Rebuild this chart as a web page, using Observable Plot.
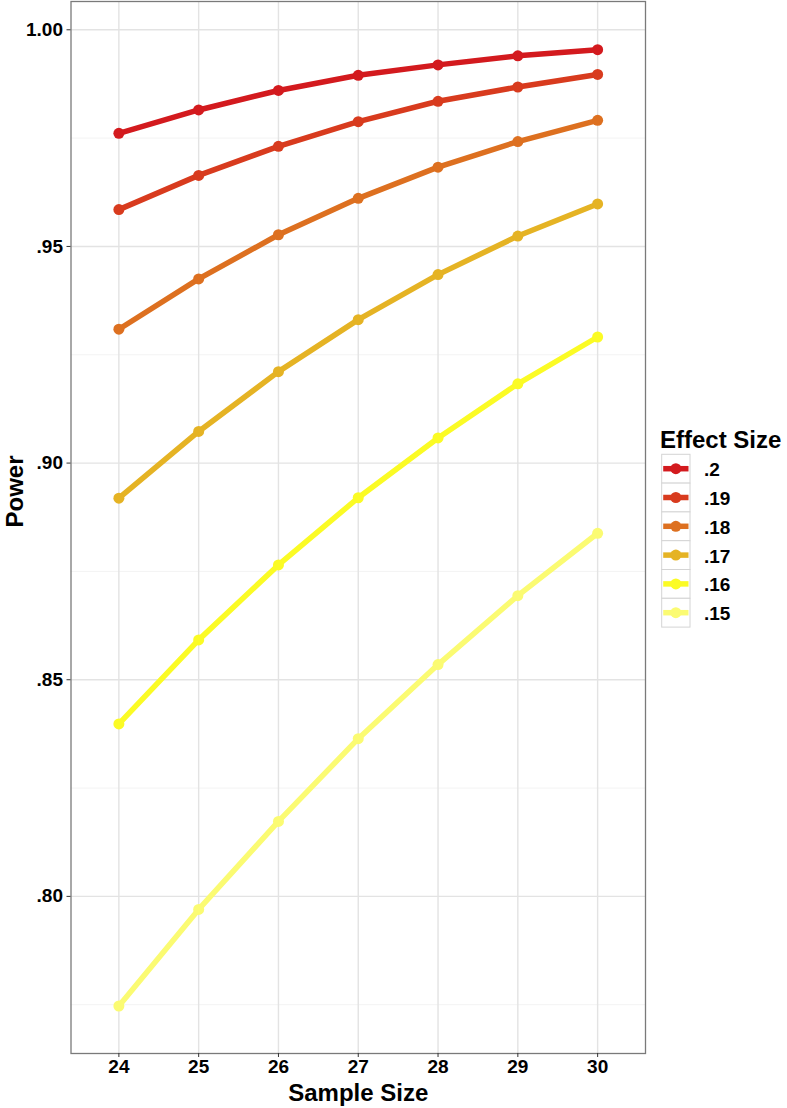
<!DOCTYPE html>
<html>
<head>
<meta charset="utf-8">
<script src="https://cdn.jsdelivr.net/npm/d3@7"></script>
<script src="https://cdn.jsdelivr.net/npm/@observablehq/plot@0.6"></script>
<style>
  html, body { margin: 0; padding: 0; background: #fff; }
  #wrap { position: relative; width: 787px; height: 1108px; }
</style>
</head>
<body>
<div id="wrap"></div>
<script>
// ---- data ----
const sampleSize = [24, 25, 26, 27, 28, 29, 30];
const effectSizes = [".2", ".19", ".18", ".17", ".16", ".15"];
const seriesColors = ["#d31a1e", "#d83b1e", "#dd7020", "#e5b324", "#fbfb25", "#fbfb72"];
const power_20 = [0.9761, 0.9815, 0.9860, 0.9895, 0.9919, 0.9940, 0.9954];
const power_19 = [0.9585, 0.9664, 0.9731, 0.9788, 0.9835, 0.9868, 0.9897];
const power_18 = [0.9309, 0.9425, 0.9527, 0.9611, 0.9683, 0.9742, 0.9791];
const power_17 = [0.8919, 0.9073, 0.9211, 0.9331, 0.9435, 0.9524, 0.9598];
const power_16 = [0.8398, 0.8592, 0.8765, 0.8920, 0.9058, 0.9183, 0.9291];
const power_15 = [0.7747, 0.7970, 0.8173, 0.8364, 0.8535, 0.8694, 0.8838];
const yTicks = [0.80, 0.85, 0.90, 0.95, 1.00];
const yTickLabels = [".80", ".85", ".90", ".95", "1.00"];
const yMinor = [0.775, 0.825, 0.875, 0.925, 0.975];
const xTitle = "Sample Size";
const yTitle = "Power";
const legendTitle = "Effect Size";

const allSeries = [power_20, power_19, power_18, power_17, power_16, power_15];
const data = [];
allSeries.forEach((vals, i) => {
  vals.forEach((v, j) => data.push({es: effectSizes[i], n: sampleSize[j], power: v}));
});

const font = "'Liberation Sans', Arial, sans-serif";

const plot = Plot.plot({
  width: 787,
  height: 1108,
  marginLeft: 70.5,
  marginRight: 142,
  marginTop: 1,
  marginBottom: 55,
  style: {fontFamily: font, fontSize: "19px", fontWeight: "bold", color: "#000", background: "#fff"},
  x: {domain: [23.4, 30.6], label: null},
  y: {domain: [0.76374, 1.00653], label: null},
  color: {domain: effectSizes, range: seriesColors},
  marks: [
    Plot.ruleY(yMinor, {stroke: "#f3f3f3", strokeWidth: 1}),
    Plot.ruleY(yTicks, {stroke: "#e3e3e3", strokeWidth: 1.4}),
    Plot.ruleX(sampleSize, {stroke: "#e3e3e3", strokeWidth: 1.4}),
    Plot.line(data, {x: "n", y: "power", z: "es", stroke: "es", strokeWidth: 5.5, strokeLinejoin: "round"}),
    Plot.dot(data, {x: "n", y: "power", fill: "es", r: 5.5, stroke: "none"}),
    Plot.frame({stroke: "#7a7a7a", strokeWidth: 1.3}),
    Plot.axisX(sampleSize, {tickSize: 4, tickPadding: 2, tickFormat: d => String(d), stroke: "#333", fontSize: 19, fontWeight: "bold", fill: "#000"}),
    Plot.axisY(yTicks, {tickSize: 4, tickPadding: 4, tickFormat: d => yTickLabels[yTicks.indexOf(d)], stroke: "#333", fontSize: 19, fontWeight: "bold", fill: "#000"}),
    Plot.text([xTitle], {frameAnchor: "bottom", dy: 47, lineAnchor: "bottom", fontSize: 24, fontWeight: "bold", fill: "#000"}),
    Plot.text([yTitle], {frameAnchor: "left", dx: -56, rotate: -90, fontSize: 24, fontWeight: "bold", fill: "#000"})
  ]
});

const wrap = document.getElementById("wrap");
wrap.appendChild(plot);

// ---- legend ----
const lg = d3.select(wrap).append("svg")
  .attr("width", 787).attr("height", 1108)
  .style("position", "absolute").style("left", "0px").style("top", "0px")
  .style("pointer-events", "none")
  .style("font-family", font).style("font-weight", "bold");

lg.append("text").attr("x", 660).attr("y", 448).attr("font-size", 24).attr("fill", "#000").text(legendTitle);

const keyTop = 454.3, keyH = 28.8, keyLeft = 661.7, keyW = 28.3;
effectSizes.forEach((es, i) => {
  const y0 = keyTop + i * keyH;
  const cy = y0 + keyH / 2;
  lg.append("rect").attr("x", keyLeft).attr("y", y0).attr("width", keyW).attr("height", keyH)
    .attr("fill", "#fff").attr("stroke", "#d4d4d4").attr("stroke-width", 1);
  lg.append("line").attr("x1", keyLeft + 1.5).attr("x2", keyLeft + keyW - 1.5).attr("y1", cy).attr("y2", cy)
    .attr("stroke", seriesColors[i]).attr("stroke-width", 5.5);
  lg.append("circle").attr("cx", keyLeft + keyW / 2).attr("cy", cy).attr("r", 5.5).attr("fill", seriesColors[i]);
  lg.append("text").attr("x", 704).attr("y", cy + 7.5).attr("font-size", 19).attr("fill", "#000").text(es);
});
</script>
</body>
</html>
